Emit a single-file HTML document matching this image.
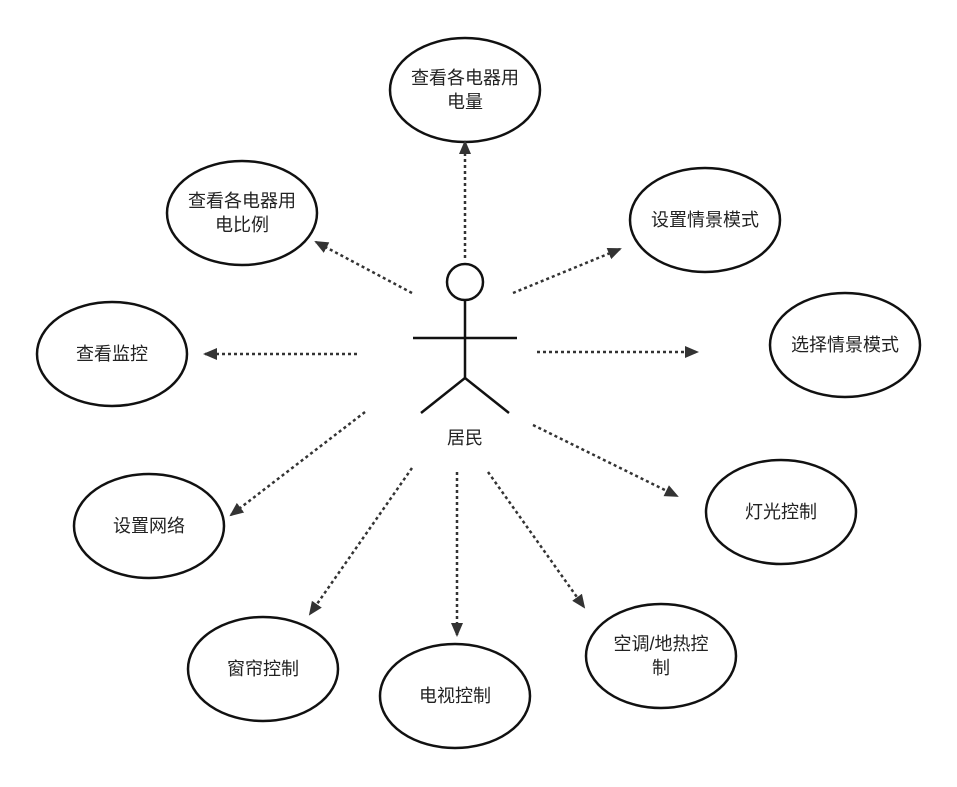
<!DOCTYPE html>
<html><head><meta charset="utf-8"><style>
html,body{margin:0;padding:0;background:#fff;}
svg{display:block}
text{font-family:"Liberation Sans","Noto Sans CJK SC",sans-serif;font-size:18px;fill:#222;text-anchor:middle}
</style></head><body>
<svg width="957" height="787" viewBox="0 0 957 787" xmlns="http://www.w3.org/2000/svg">
<defs>
<marker id="a" markerWidth="14" markerHeight="14" refX="12" refY="7" orient="auto" markerUnits="userSpaceOnUse" viewBox="0 0 14 14">
<path d="M0,1 L14,7 L0,13 Z" fill="#333"/>
</marker>
</defs>
<g fill="#fff" stroke="#111" stroke-width="2.5">
<ellipse cx="465" cy="90" rx="75" ry="52"/>
<ellipse cx="242" cy="213" rx="75" ry="52"/>
<ellipse cx="705" cy="220" rx="75" ry="52"/>
<ellipse cx="112" cy="354" rx="75" ry="52"/>
<ellipse cx="845" cy="345" rx="75" ry="52"/>
<ellipse cx="149" cy="526" rx="75" ry="52"/>
<ellipse cx="781" cy="512" rx="75" ry="52"/>
<ellipse cx="263" cy="669" rx="75" ry="52"/>
<ellipse cx="455" cy="696" rx="75" ry="52"/>
<ellipse cx="661" cy="656" rx="75" ry="52"/>
</g>
<text x="465" y="84">查看各电器用</text><text x="465" y="108">电量</text>
<text x="242" y="207">查看各电器用</text><text x="242" y="231">电比例</text>
<text x="705" y="226">设置情景模式</text>
<text x="112" y="360">查看监控</text>
<text x="845" y="351">选择情景模式</text>
<text x="149" y="532">设置网络</text>
<text x="781" y="518">灯光控制</text>
<text x="263" y="675">窗帘控制</text>
<text x="455" y="702">电视控制</text>
<text x="661" y="650">空调/地热控</text><text x="661" y="674">制</text>
<g fill="none" stroke="#111" stroke-width="2.5">
<circle cx="465" cy="282" r="18"/>
<line x1="465" y1="300" x2="465" y2="378"/>
<line x1="413" y1="338" x2="517" y2="338"/>
<line x1="465" y1="378" x2="421" y2="413"/>
<line x1="465" y1="378" x2="509" y2="413"/>
</g>
<text x="465" y="444">居民</text>
<g fill="none" stroke="#333" stroke-width="2.5" stroke-dasharray="3,3" marker-end="url(#a)">
<line x1="465" y1="258" x2="465" y2="142"/>
<line x1="412" y1="293" x2="316" y2="242"/>
<line x1="513" y1="293" x2="620" y2="249"/>
<line x1="357" y1="354" x2="205" y2="354"/>
<line x1="537" y1="352" x2="697" y2="352"/>
<line x1="365" y1="412" x2="231" y2="515"/>
<line x1="533" y1="425" x2="677" y2="496"/>
<line x1="412" y1="468" x2="310" y2="614"/>
<line x1="457" y1="472" x2="457" y2="635"/>
<line x1="488" y1="472" x2="584" y2="607"/>
</g>
</svg>
</body></html>
